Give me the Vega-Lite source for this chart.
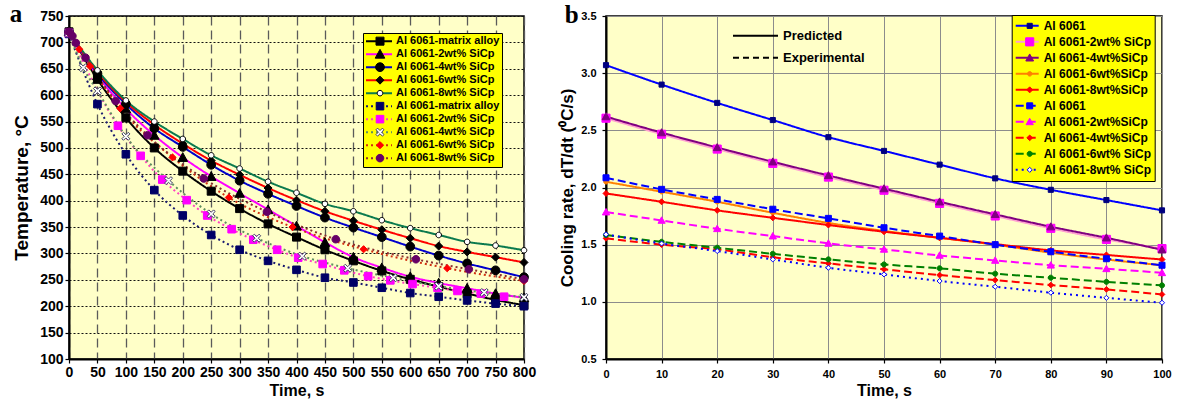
{
  "$schema": "https://vega.github.io/schema/vega-lite/v6.json",
  "background": "white",
  "padding": {"left": 8, "top": 1, "right": 3, "bottom": 5},
  "spacing": 20,
  "resolve": {
    "scale": {"color": "independent", "strokeDash": "independent", "shape": "independent", "fill": "independent", "stroke": "independent", "strokeWidth": "independent"},
    "legend": {"color": "independent", "strokeDash": "independent", "shape": "independent", "fill": "independent", "stroke": "independent", "strokeWidth": "independent"}
  },
  "config": {
    "font": "Liberation Sans",
    "view": {"fill": "#FFFFC8", "stroke": "black", "strokeWidth": 1.5},
    "axis": {"labelFont": "Liberation Sans", "titleFont": "Liberation Sans", "labelFontWeight": "bold", "titleFontWeight": "bold", "labelColor": "black", "titleColor": "black", "domainColor": "black", "domainWidth": 2, "tickColor": "black", "tickSize": 4, "tickWidth": 1.2, "labelFlush": false, "labelOverlap": false},
    "legend": {"labelFont": "Liberation Sans", "labelFontWeight": "bold", "labelColor": "black", "labelLimit": 300}
  },
  "datasets": {
    "left": [
      {"s":"P|Al 6061-matrix alloy","t":0,"v":720},{"s":"P|Al 6061-matrix alloy","t":50,"v":630},{"s":"P|Al 6061-matrix alloy","t":100,"v":557},{"s":"P|Al 6061-matrix alloy","t":150,"v":500},{"s":"P|Al 6061-matrix alloy","t":200,"v":456},{"s":"P|Al 6061-matrix alloy","t":250,"v":418},{"s":"P|Al 6061-matrix alloy","t":300,"v":385},{"s":"P|Al 6061-matrix alloy","t":350,"v":356},{"s":"P|Al 6061-matrix alloy","t":400,"v":331},{"s":"P|Al 6061-matrix alloy","t":450,"v":307},{"s":"P|Al 6061-matrix alloy","t":500,"v":286},{"s":"P|Al 6061-matrix alloy","t":550,"v":267},{"s":"P|Al 6061-matrix alloy","t":600,"v":251},{"s":"P|Al 6061-matrix alloy","t":650,"v":237},{"s":"P|Al 6061-matrix alloy","t":700,"v":224},{"s":"P|Al 6061-matrix alloy","t":750,"v":212},{"s":"P|Al 6061-matrix alloy","t":800,"v":202},
      {"s":"P|Al 6061-2wt% SiCp","t":0,"v":720},{"s":"P|Al 6061-2wt% SiCp","t":50,"v":637},{"s":"P|Al 6061-2wt% SiCp","t":100,"v":574},{"s":"P|Al 6061-2wt% SiCp","t":150,"v":524},{"s":"P|Al 6061-2wt% SiCp","t":200,"v":482},{"s":"P|Al 6061-2wt% SiCp","t":250,"v":446},{"s":"P|Al 6061-2wt% SiCp","t":300,"v":414},{"s":"P|Al 6061-2wt% SiCp","t":350,"v":383},{"s":"P|Al 6061-2wt% SiCp","t":400,"v":352},{"s":"P|Al 6061-2wt% SiCp","t":450,"v":321},{"s":"P|Al 6061-2wt% SiCp","t":500,"v":293},{"s":"P|Al 6061-2wt% SiCp","t":550,"v":273},{"s":"P|Al 6061-2wt% SiCp","t":600,"v":256},{"s":"P|Al 6061-2wt% SiCp","t":650,"v":244},{"s":"P|Al 6061-2wt% SiCp","t":700,"v":234},{"s":"P|Al 6061-2wt% SiCp","t":750,"v":224},{"s":"P|Al 6061-2wt% SiCp","t":800,"v":216},
      {"s":"P|Al 6061-4wt% SiCp","t":0,"v":720},{"s":"P|Al 6061-4wt% SiCp","t":50,"v":641},{"s":"P|Al 6061-4wt% SiCp","t":100,"v":583},{"s":"P|Al 6061-4wt% SiCp","t":150,"v":537},{"s":"P|Al 6061-4wt% SiCp","t":200,"v":502},{"s":"P|Al 6061-4wt% SiCp","t":250,"v":468},{"s":"P|Al 6061-4wt% SiCp","t":300,"v":438},{"s":"P|Al 6061-4wt% SiCp","t":350,"v":413},{"s":"P|Al 6061-4wt% SiCp","t":400,"v":390},{"s":"P|Al 6061-4wt% SiCp","t":450,"v":368},{"s":"P|Al 6061-4wt% SiCp","t":500,"v":349},{"s":"P|Al 6061-4wt% SiCp","t":550,"v":331},{"s":"P|Al 6061-4wt% SiCp","t":600,"v":313},{"s":"P|Al 6061-4wt% SiCp","t":650,"v":296},{"s":"P|Al 6061-4wt% SiCp","t":700,"v":281},{"s":"P|Al 6061-4wt% SiCp","t":750,"v":268},{"s":"P|Al 6061-4wt% SiCp","t":800,"v":255},
      {"s":"P|Al 6061-6wt% SiCp","t":0,"v":720},{"s":"P|Al 6061-6wt% SiCp","t":50,"v":644},{"s":"P|Al 6061-6wt% SiCp","t":100,"v":587},{"s":"P|Al 6061-6wt% SiCp","t":150,"v":544},{"s":"P|Al 6061-6wt% SiCp","t":200,"v":508},{"s":"P|Al 6061-6wt% SiCp","t":250,"v":476},{"s":"P|Al 6061-6wt% SiCp","t":300,"v":449},{"s":"P|Al 6061-6wt% SiCp","t":350,"v":424},{"s":"P|Al 6061-6wt% SiCp","t":400,"v":401},{"s":"P|Al 6061-6wt% SiCp","t":450,"v":380},{"s":"P|Al 6061-6wt% SiCp","t":500,"v":362},{"s":"P|Al 6061-6wt% SiCp","t":550,"v":345},{"s":"P|Al 6061-6wt% SiCp","t":600,"v":329},{"s":"P|Al 6061-6wt% SiCp","t":650,"v":314},{"s":"P|Al 6061-6wt% SiCp","t":700,"v":303},{"s":"P|Al 6061-6wt% SiCp","t":750,"v":293},{"s":"P|Al 6061-6wt% SiCp","t":800,"v":283},
      {"s":"P|Al 6061-8wt% SiCp","t":0,"v":720},{"s":"P|Al 6061-8wt% SiCp","t":50,"v":647},{"s":"P|Al 6061-8wt% SiCp","t":100,"v":590},{"s":"P|Al 6061-8wt% SiCp","t":150,"v":550},{"s":"P|Al 6061-8wt% SiCp","t":200,"v":517},{"s":"P|Al 6061-8wt% SiCp","t":250,"v":486},{"s":"P|Al 6061-8wt% SiCp","t":300,"v":461},{"s":"P|Al 6061-8wt% SiCp","t":350,"v":436},{"s":"P|Al 6061-8wt% SiCp","t":400,"v":415},{"s":"P|Al 6061-8wt% SiCp","t":450,"v":394},{"s":"P|Al 6061-8wt% SiCp","t":500,"v":380},{"s":"P|Al 6061-8wt% SiCp","t":550,"v":363},{"s":"P|Al 6061-8wt% SiCp","t":600,"v":348},{"s":"P|Al 6061-8wt% SiCp","t":650,"v":335},{"s":"P|Al 6061-8wt% SiCp","t":700,"v":322},{"s":"P|Al 6061-8wt% SiCp","t":750,"v":315},{"s":"P|Al 6061-8wt% SiCp","t":800,"v":306},
      {"s":"E|Al 6061-matrix alloy","t":0,"v":716},{"s":"E|Al 6061-matrix alloy","t":50,"v":583},{"s":"E|Al 6061-matrix alloy","t":100,"v":488},{"s":"E|Al 6061-matrix alloy","t":150,"v":420},{"s":"E|Al 6061-matrix alloy","t":200,"v":372},{"s":"E|Al 6061-matrix alloy","t":250,"v":335},{"s":"E|Al 6061-matrix alloy","t":300,"v":307},{"s":"E|Al 6061-matrix alloy","t":350,"v":286},{"s":"E|Al 6061-matrix alloy","t":400,"v":269},{"s":"E|Al 6061-matrix alloy","t":450,"v":254},{"s":"E|Al 6061-matrix alloy","t":500,"v":245},{"s":"E|Al 6061-matrix alloy","t":550,"v":235},{"s":"E|Al 6061-matrix alloy","t":600,"v":225},{"s":"E|Al 6061-matrix alloy","t":650,"v":218},{"s":"E|Al 6061-matrix alloy","t":700,"v":211},{"s":"E|Al 6061-matrix alloy","t":750,"v":205},{"s":"E|Al 6061-matrix alloy","t":800,"v":200},
      {"s":"E|Al 6061-2wt% SiCp","t":0,"v":718},{"s":"E|Al 6061-2wt% SiCp","t":86,"v":542},{"s":"E|Al 6061-2wt% SiCp","t":126,"v":485},{"s":"E|Al 6061-2wt% SiCp","t":164,"v":440},{"s":"E|Al 6061-2wt% SiCp","t":207,"v":401},{"s":"E|Al 6061-2wt% SiCp","t":243,"v":372},{"s":"E|Al 6061-2wt% SiCp","t":286,"v":346},{"s":"E|Al 6061-2wt% SiCp","t":324,"v":326},{"s":"E|Al 6061-2wt% SiCp","t":366,"v":307},{"s":"E|Al 6061-2wt% SiCp","t":403,"v":292},{"s":"E|Al 6061-2wt% SiCp","t":446,"v":280},{"s":"E|Al 6061-2wt% SiCp","t":484,"v":268},{"s":"E|Al 6061-2wt% SiCp","t":526,"v":257},{"s":"E|Al 6061-2wt% SiCp","t":565,"v":249},{"s":"E|Al 6061-2wt% SiCp","t":604,"v":242},{"s":"E|Al 6061-2wt% SiCp","t":648,"v":235},{"s":"E|Al 6061-2wt% SiCp","t":683,"v":229},{"s":"E|Al 6061-2wt% SiCp","t":724,"v":224},{"s":"E|Al 6061-2wt% SiCp","t":765,"v":218},
      {"s":"E|Al 6061-4wt% SiCp","t":0,"v":718},{"s":"E|Al 6061-4wt% SiCp","t":25,"v":652},{"s":"E|Al 6061-4wt% SiCp","t":50,"v":608},{"s":"E|Al 6061-4wt% SiCp","t":100,"v":522},{"s":"E|Al 6061-4wt% SiCp","t":175,"v":438},{"s":"E|Al 6061-4wt% SiCp","t":250,"v":375},{"s":"E|Al 6061-4wt% SiCp","t":330,"v":329},{"s":"E|Al 6061-4wt% SiCp","t":410,"v":295},{"s":"E|Al 6061-4wt% SiCp","t":490,"v":272},{"s":"E|Al 6061-4wt% SiCp","t":570,"v":254},{"s":"E|Al 6061-4wt% SiCp","t":650,"v":238},{"s":"E|Al 6061-4wt% SiCp","t":730,"v":226},{"s":"E|Al 6061-4wt% SiCp","t":800,"v":217},
      {"s":"E|Al 6061-6wt% SiCp","t":0,"v":718},{"s":"E|Al 6061-6wt% SiCp","t":18,"v":687},{"s":"E|Al 6061-6wt% SiCp","t":37,"v":655},{"s":"E|Al 6061-6wt% SiCp","t":90,"v":575},{"s":"E|Al 6061-6wt% SiCp","t":182,"v":482},{"s":"E|Al 6061-6wt% SiCp","t":281,"v":406},{"s":"E|Al 6061-6wt% SiCp","t":393,"v":350},{"s":"E|Al 6061-6wt% SiCp","t":518,"v":308},{"s":"E|Al 6061-6wt% SiCp","t":665,"v":272},{"s":"E|Al 6061-6wt% SiCp","t":800,"v":248},
      {"s":"E|Al 6061-8wt% SiCp","t":0,"v":720},{"s":"E|Al 6061-8wt% SiCp","t":6,"v":712},{"s":"E|Al 6061-8wt% SiCp","t":12,"v":699},{"s":"E|Al 6061-8wt% SiCp","t":29,"v":671},{"s":"E|Al 6061-8wt% SiCp","t":82,"v":589},{"s":"E|Al 6061-8wt% SiCp","t":138,"v":524},{"s":"E|Al 6061-8wt% SiCp","t":237,"v":442},{"s":"E|Al 6061-8wt% SiCp","t":348,"v":379},{"s":"E|Al 6061-8wt% SiCp","t":469,"v":327},{"s":"E|Al 6061-8wt% SiCp","t":610,"v":289},{"s":"E|Al 6061-8wt% SiCp","t":703,"v":270},{"s":"E|Al 6061-8wt% SiCp","t":800,"v":251}
    ],
    "right": [
      {"s":"P|Al 6061","type":"Predicted","t":0,"v":3.07},{"s":"P|Al 6061","type":"Predicted","t":10,"v":2.90},{"s":"P|Al 6061","type":"Predicted","t":20,"v":2.74},{"s":"P|Al 6061","type":"Predicted","t":30,"v":2.59},{"s":"P|Al 6061","type":"Predicted","t":40,"v":2.44},{"s":"P|Al 6061","type":"Predicted","t":50,"v":2.32},{"s":"P|Al 6061","type":"Predicted","t":60,"v":2.20},{"s":"P|Al 6061","type":"Predicted","t":70,"v":2.08},{"s":"P|Al 6061","type":"Predicted","t":80,"v":1.98},{"s":"P|Al 6061","type":"Predicted","t":90,"v":1.89},{"s":"P|Al 6061","type":"Predicted","t":100,"v":1.80},
      {"s":"P|Al 6061-2wt% SiCp","type":"Predicted","t":0,"v":2.606},{"s":"P|Al 6061-2wt% SiCp","type":"Predicted","t":10,"v":2.466},{"s":"P|Al 6061-2wt% SiCp","type":"Predicted","t":20,"v":2.336},{"s":"P|Al 6061-2wt% SiCp","type":"Predicted","t":30,"v":2.211},{"s":"P|Al 6061-2wt% SiCp","type":"Predicted","t":40,"v":2.091},{"s":"P|Al 6061-2wt% SiCp","type":"Predicted","t":50,"v":1.976},{"s":"P|Al 6061-2wt% SiCp","type":"Predicted","t":60,"v":1.861},{"s":"P|Al 6061-2wt% SiCp","type":"Predicted","t":70,"v":1.751},{"s":"P|Al 6061-2wt% SiCp","type":"Predicted","t":80,"v":1.643},{"s":"P|Al 6061-2wt% SiCp","type":"Predicted","t":90,"v":1.546},{"s":"P|Al 6061-2wt% SiCp","type":"Predicted","t":100,"v":1.466},
      {"s":"P|Al 6061-4wt%SiCp","type":"Predicted","t":0,"v":2.62},{"s":"P|Al 6061-4wt%SiCp","type":"Predicted","t":10,"v":2.48},{"s":"P|Al 6061-4wt%SiCp","type":"Predicted","t":20,"v":2.35},{"s":"P|Al 6061-4wt%SiCp","type":"Predicted","t":30,"v":2.225},{"s":"P|Al 6061-4wt%SiCp","type":"Predicted","t":40,"v":2.105},{"s":"P|Al 6061-4wt%SiCp","type":"Predicted","t":50,"v":1.99},{"s":"P|Al 6061-4wt%SiCp","type":"Predicted","t":60,"v":1.875},{"s":"P|Al 6061-4wt%SiCp","type":"Predicted","t":70,"v":1.765},{"s":"P|Al 6061-4wt%SiCp","type":"Predicted","t":80,"v":1.657},{"s":"P|Al 6061-4wt%SiCp","type":"Predicted","t":90,"v":1.56},{"s":"P|Al 6061-4wt%SiCp","type":"Predicted","t":100,"v":1.455},
      {"s":"P|Al 6061-6wt%SiCp","type":"Predicted","t":0,"v":2.05},{"s":"P|Al 6061-6wt%SiCp","type":"Predicted","t":10,"v":1.963},{"s":"P|Al 6061-6wt%SiCp","type":"Predicted","t":20,"v":1.875},{"s":"P|Al 6061-6wt%SiCp","type":"Predicted","t":30,"v":1.779},{"s":"P|Al 6061-6wt%SiCp","type":"Predicted","t":40,"v":1.69},{"s":"P|Al 6061-6wt%SiCp","type":"Predicted","t":50,"v":1.62},{"s":"P|Al 6061-6wt%SiCp","type":"Predicted","t":60,"v":1.56},{"s":"P|Al 6061-6wt%SiCp","type":"Predicted","t":70,"v":1.50},{"s":"P|Al 6061-6wt%SiCp","type":"Predicted","t":80,"v":1.43},{"s":"P|Al 6061-6wt%SiCp","type":"Predicted","t":90,"v":1.37},{"s":"P|Al 6061-6wt%SiCp","type":"Predicted","t":100,"v":1.32},
      {"s":"P|Al 6061-8wt%SiCp","type":"Predicted","t":0,"v":1.948},{"s":"P|Al 6061-8wt%SiCp","type":"Predicted","t":10,"v":1.875},{"s":"P|Al 6061-8wt%SiCp","type":"Predicted","t":20,"v":1.80},{"s":"P|Al 6061-8wt%SiCp","type":"Predicted","t":30,"v":1.735},{"s":"P|Al 6061-8wt%SiCp","type":"Predicted","t":40,"v":1.672},{"s":"P|Al 6061-8wt%SiCp","type":"Predicted","t":50,"v":1.613},{"s":"P|Al 6061-8wt%SiCp","type":"Predicted","t":60,"v":1.56},{"s":"P|Al 6061-8wt%SiCp","type":"Predicted","t":70,"v":1.505},{"s":"P|Al 6061-8wt%SiCp","type":"Predicted","t":80,"v":1.45},{"s":"P|Al 6061-8wt%SiCp","type":"Predicted","t":90,"v":1.41},{"s":"P|Al 6061-8wt%SiCp","type":"Predicted","t":100,"v":1.37},
      {"s":"E|Al 6061","type":"Experimental","t":0,"v":2.085},{"s":"E|Al 6061","type":"Experimental","t":10,"v":1.984},{"s":"E|Al 6061","type":"Experimental","t":20,"v":1.896},{"s":"E|Al 6061","type":"Experimental","t":30,"v":1.81},{"s":"E|Al 6061","type":"Experimental","t":40,"v":1.73},{"s":"E|Al 6061","type":"Experimental","t":50,"v":1.648},{"s":"E|Al 6061","type":"Experimental","t":60,"v":1.575},{"s":"E|Al 6061","type":"Experimental","t":70,"v":1.50},{"s":"E|Al 6061","type":"Experimental","t":80,"v":1.438},{"s":"E|Al 6061","type":"Experimental","t":90,"v":1.377},{"s":"E|Al 6061","type":"Experimental","t":100,"v":1.32},
      {"s":"E|Al 6061-2wt%SiCp","type":"Experimental","t":0,"v":1.785},{"s":"E|Al 6061-2wt%SiCp","type":"Experimental","t":10,"v":1.712},{"s":"E|Al 6061-2wt%SiCp","type":"Experimental","t":20,"v":1.639},{"s":"E|Al 6061-2wt%SiCp","type":"Experimental","t":30,"v":1.575},{"s":"E|Al 6061-2wt%SiCp","type":"Experimental","t":40,"v":1.511},{"s":"E|Al 6061-2wt%SiCp","type":"Experimental","t":50,"v":1.459},{"s":"E|Al 6061-2wt%SiCp","type":"Experimental","t":60,"v":1.406},{"s":"E|Al 6061-2wt%SiCp","type":"Experimental","t":70,"v":1.362},{"s":"E|Al 6061-2wt%SiCp","type":"Experimental","t":80,"v":1.32},{"s":"E|Al 6061-2wt%SiCp","type":"Experimental","t":90,"v":1.289},{"s":"E|Al 6061-2wt%SiCp","type":"Experimental","t":100,"v":1.254},
      {"s":"E|Al 6061-4wt%SiCp","type":"Experimental","t":0,"v":1.555},{"s":"E|Al 6061-4wt%SiCp","type":"Experimental","t":10,"v":1.50},{"s":"E|Al 6061-4wt%SiCp","type":"Experimental","t":20,"v":1.459},{"s":"E|Al 6061-4wt%SiCp","type":"Experimental","t":30,"v":1.39},{"s":"E|Al 6061-4wt%SiCp","type":"Experimental","t":40,"v":1.336},{"s":"E|Al 6061-4wt%SiCp","type":"Experimental","t":50,"v":1.284},{"s":"E|Al 6061-4wt%SiCp","type":"Experimental","t":60,"v":1.234},{"s":"E|Al 6061-4wt%SiCp","type":"Experimental","t":70,"v":1.19},{"s":"E|Al 6061-4wt%SiCp","type":"Experimental","t":80,"v":1.147},{"s":"E|Al 6061-4wt%SiCp","type":"Experimental","t":90,"v":1.109},{"s":"E|Al 6061-4wt%SiCp","type":"Experimental","t":100,"v":1.065},
      {"s":"E|Al 6061-6wt% SiCp","type":"Experimental","t":0,"v":1.584},{"s":"E|Al 6061-6wt% SiCp","type":"Experimental","t":10,"v":1.525},{"s":"E|Al 6061-6wt% SiCp","type":"Experimental","t":20,"v":1.473},{"s":"E|Al 6061-6wt% SiCp","type":"Experimental","t":30,"v":1.42},{"s":"E|Al 6061-6wt% SiCp","type":"Experimental","t":40,"v":1.371},{"s":"E|Al 6061-6wt% SiCp","type":"Experimental","t":50,"v":1.327},{"s":"E|Al 6061-6wt% SiCp","type":"Experimental","t":60,"v":1.293},{"s":"E|Al 6061-6wt% SiCp","type":"Experimental","t":70,"v":1.246},{"s":"E|Al 6061-6wt% SiCp","type":"Experimental","t":80,"v":1.211},{"s":"E|Al 6061-6wt% SiCp","type":"Experimental","t":90,"v":1.175},{"s":"E|Al 6061-6wt% SiCp","type":"Experimental","t":100,"v":1.144},
      {"s":"E|Al 6061-8wt% SiCp","type":"Experimental","t":0,"v":1.59},{"s":"E|Al 6061-8wt% SiCp","type":"Experimental","t":10,"v":1.51},{"s":"E|Al 6061-8wt% SiCp","type":"Experimental","t":20,"v":1.444},{"s":"E|Al 6061-8wt% SiCp","type":"Experimental","t":30,"v":1.371},{"s":"E|Al 6061-8wt% SiCp","type":"Experimental","t":40,"v":1.298},{"s":"E|Al 6061-8wt% SiCp","type":"Experimental","t":50,"v":1.24},{"s":"E|Al 6061-8wt% SiCp","type":"Experimental","t":60,"v":1.182},{"s":"E|Al 6061-8wt% SiCp","type":"Experimental","t":70,"v":1.132},{"s":"E|Al 6061-8wt% SiCp","type":"Experimental","t":80,"v":1.08},{"s":"E|Al 6061-8wt% SiCp","type":"Experimental","t":90,"v":1.035},{"s":"E|Al 6061-8wt% SiCp","type":"Experimental","t":100,"v":0.992}
    ]
  },
  "hconcat": [
    {
      "width": 455, "height": 343,
      "data": {"name": "left"},
      "title": {"text": "a", "anchor": "start", "frame": "bounds", "font": "Liberation Serif", "fontSize": 25, "fontWeight": "bold", "color": "black", "dy": 18, "dx": -3, "offset": 0},
      "encoding": {
        "x": {"field": "t", "type": "quantitative", "scale": {"domain": [0, 800], "nice": false},
          "axis": {"title": "Time, s", "values": [0,50,100,150,200,250,300,350,400,450,500,550,600,650,700,750,800], "grid": true, "gridDash": [9,5], "gridColor": "#5a5a5a", "gridWidth": 1.3, "labelFontSize": 14, "labelPadding": 2, "titleFontSize": 16, "titlePadding": 3}},
        "y": {"field": "v", "type": "quantitative", "scale": {"domain": [100, 750], "nice": false, "zero": false},
          "axis": {"title": "Temperature, °C", "values": [100,150,200,250,300,350,400,450,500,550,600,650,700,750], "grid": true, "gridDash": [2,2], "gridColor": "#111111", "gridWidth": 1, "labelFontSize": 14, "labelPadding": 2, "titleFontSize": 19, "titlePadding": 8}}
      },
      "layer": [
        {
          "mark": {"type": "line", "strokeWidth": 2, "interpolate": "monotone"},
          "encoding": {
            "color": {"field": "s", "type": "nominal",
              "scale": {"domain": ["P|Al 6061-matrix alloy","P|Al 6061-2wt% SiCp","P|Al 6061-4wt% SiCp","P|Al 6061-6wt% SiCp","P|Al 6061-8wt% SiCp","E|Al 6061-matrix alloy","E|Al 6061-2wt% SiCp","E|Al 6061-4wt% SiCp","E|Al 6061-6wt% SiCp","E|Al 6061-8wt% SiCp"],
                "range": ["#000000","#FF00FF","#0000CC","#FF0000","#0B7A4E","#1A1A70","#FF40C0","#5F8F5F","#D03010","#8B2E2E"]},
              "legend": {"title": null, "orient": "none", "legendX": 294, "legendY": 17, "zindex": 1, "symbolType": "stroke", "symbolSize": 676, "symbolStrokeWidth": 2, "fillColor": "#FFFF00", "strokeColor": "black", "padding": 2, "clipHeight": 12.3, "rowPadding": 0, "labelFontSize": 11, "labelOffset": 3, "labelExpr": "slice(datum.label, 2)"}},
            "strokeDash": {"field": "s", "type": "nominal",
              "scale": {"domain": ["P|Al 6061-matrix alloy","P|Al 6061-2wt% SiCp","P|Al 6061-4wt% SiCp","P|Al 6061-6wt% SiCp","P|Al 6061-8wt% SiCp","E|Al 6061-matrix alloy","E|Al 6061-2wt% SiCp","E|Al 6061-4wt% SiCp","E|Al 6061-6wt% SiCp","E|Al 6061-8wt% SiCp"],
                "range": [[1,0],[1,0],[1,0],[1,0],[1,0],[2,3],[2,3],[2,3],[2,3],[2,3]]}}
          }
        },
        {
          "mark": {"type": "point", "filled": true, "opacity": 1, "strokeWidth": 1, "size": 64},
          "encoding": {
            "shape": {"field": "s", "type": "nominal",
              "scale": {"domain": ["P|Al 6061-matrix alloy","P|Al 6061-2wt% SiCp","P|Al 6061-4wt% SiCp","P|Al 6061-6wt% SiCp","P|Al 6061-8wt% SiCp","E|Al 6061-matrix alloy","E|Al 6061-2wt% SiCp","E|Al 6061-4wt% SiCp","E|Al 6061-6wt% SiCp","E|Al 6061-8wt% SiCp","~"],
                "range": ["M-1,-1L1,-1L1,1L-1,1Z","M0,-1.2L1.2,1L-1.2,1Z","M-1.1,0A1.1,1.1,0,1,1,1.1,0A1.1,1.1,0,1,1,-1.1,0Z","M0,-1L1,0L0,1L-1,0Z","M-0.7,0A0.7,0.7,0,1,1,0.7,0A0.7,0.7,0,1,1,-0.7,0Z","M-0.95,-0.95L0.95,-0.95L0.95,0.95L-0.95,0.95Z","M-0.95,-0.95L0.95,-0.95L0.95,0.95L-0.95,0.95Z","M-1,-0.6L-0.6,-1L0,-0.4L0.6,-1L1,-0.6L0.4,0L1,0.6L0.6,1L0,0.4L-0.6,1L-1,0.6L-0.4,0Z","M0,-0.9L0.9,0L0,0.9L-0.9,0Z","M-0.95,0A0.95,0.95,0,1,1,0.95,0A0.95,0.95,0,1,1,-0.95,0Z","circle"]},
              "legend": {"title": null, "orient": "none", "legendX": 294, "legendY": 17, "zindex": 2, "values": ["P|Al 6061-matrix alloy","P|Al 6061-2wt% SiCp","P|Al 6061-4wt% SiCp","P|Al 6061-6wt% SiCp","P|Al 6061-8wt% SiCp","E|Al 6061-matrix alloy","E|Al 6061-2wt% SiCp","E|Al 6061-4wt% SiCp","E|Al 6061-6wt% SiCp","E|Al 6061-8wt% SiCp"], "symbolSize": 64, "symbolStrokeWidth": 1, "padding": 2, "clipHeight": 12.3, "rowPadding": 0, "labelFontSize": 11, "symbolOffset": 9.5, "labelOffset": 3, "labelExpr": "''"}},
            "fill": {"field": "s", "type": "nominal",
              "scale": {"domain": ["P|Al 6061-matrix alloy","P|Al 6061-2wt% SiCp","P|Al 6061-4wt% SiCp","P|Al 6061-6wt% SiCp","P|Al 6061-8wt% SiCp","E|Al 6061-matrix alloy","E|Al 6061-2wt% SiCp","E|Al 6061-4wt% SiCp","E|Al 6061-6wt% SiCp","E|Al 6061-8wt% SiCp","~"],
                "range": ["#000000","#000000","#000000","#000000","#FFFFFF","#000066","#FF00FF","#FFFFFF","#FF0000","#660066","#000000"]}},
            "stroke": {"field": "s", "type": "nominal",
              "scale": {"domain": ["P|Al 6061-matrix alloy","P|Al 6061-2wt% SiCp","P|Al 6061-4wt% SiCp","P|Al 6061-6wt% SiCp","P|Al 6061-8wt% SiCp","E|Al 6061-matrix alloy","E|Al 6061-2wt% SiCp","E|Al 6061-4wt% SiCp","E|Al 6061-6wt% SiCp","E|Al 6061-8wt% SiCp","~"],
                "range": ["#000000","#000000","#000000","#000000","#000000","#000066","#FF00FF","#404060","#FF0000","#660066","#000000"]}}
          }
        }
      ]
    },
    {
      "width": 556, "height": 343,
      "data": {"name": "right"},
      "title": {"text": "b", "anchor": "start", "frame": "bounds", "font": "Liberation Serif", "fontSize": 25, "fontWeight": "bold", "color": "black", "dy": 18, "dx": 6, "offset": 0},
      "encoding": {
        "x": {"field": "t", "type": "quantitative", "scale": {"domain": [0, 100], "nice": false},
          "axis": {"title": "Time, s", "values": [0,10,20,30,40,50,60,70,80,90,100], "grid": true, "gridColor": "#8c8c8c", "gridWidth": 1, "labelFontSize": 11, "labelPadding": 5, "titleFontSize": 16, "titlePadding": 3}},
        "y": {"field": "v", "type": "quantitative", "scale": {"domain": [0.5, 3.5], "nice": false, "zero": false},
          "axis": {"title": "Cooling rate, dT/dt (⁰C/s)", "values": [0.5,1,1.5,2,2.5,3,3.5], "format": ".1f", "grid": true, "gridColor": "#8c8c8c", "gridWidth": 1, "labelFontSize": 11, "labelPadding": 6, "titleFontSize": 17, "titlePadding": 4}}
      },
      "layer": [
        {
          "mark": {"type": "line", "strokeWidth": 2, "interpolate": "monotone"},
          "encoding": {
            "color": {"field": "s", "type": "nominal",
              "scale": {"domain": ["P|Al 6061","P|Al 6061-2wt% SiCp","P|Al 6061-4wt%SiCp","P|Al 6061-6wt%SiCp","P|Al 6061-8wt%SiCp","E|Al 6061","E|Al 6061-2wt%SiCp","E|Al 6061-4wt%SiCp","E|Al 6061-6wt% SiCp","E|Al 6061-8wt% SiCp"],
                "range": ["#0000FF","#FFA0D0","#800080","#FF8000","#FF0000","#0000FF","#FF00FF","#FF0000","#008000","#0000FF"]},
              "legend": {"title": null, "orient": "none", "legendX": 405.7, "legendY": -1, "zindex": 1, "symbolType": "stroke", "symbolSize": 529, "symbolStrokeWidth": 2, "fillColor": "#FFFF00", "strokeColor": "black", "padding": 3, "clipHeight": 15.7, "rowPadding": 0, "labelFontSize": 12, "labelOffset": 4, "labelExpr": "slice(datum.label, 2)"}},
            "strokeDash": {"field": "s", "type": "nominal",
              "scale": {"domain": ["P|Al 6061","P|Al 6061-2wt% SiCp","P|Al 6061-4wt%SiCp","P|Al 6061-6wt%SiCp","P|Al 6061-8wt%SiCp","E|Al 6061","E|Al 6061-2wt%SiCp","E|Al 6061-4wt%SiCp","E|Al 6061-6wt% SiCp","E|Al 6061-8wt% SiCp"],
                "range": [[1,0],[1,0],[1,0],[1,0],[1,0],[8,4],[8,4],[8,4],[8,4],[2,4]]}},
            "strokeWidth": {"field": "type", "type": "nominal",
              "scale": {"domain": ["Predicted", "Experimental"], "range": [2, 2]},
              "legend": {"title": null, "orient": "none", "legendX": 126, "legendY": 9, "zindex": 1, "symbolType": "stroke", "symbolSize": 2025, "symbolStrokeColor": "black", "padding": 0, "clipHeight": 21.7, "rowPadding": 0, "labelFontSize": 13, "labelOffset": 4,
                "encode": {"symbols": {"update": {"strokeDash": {"signal": "datum.value === 'Experimental' ? [6, 4] : [1, 0]"}, "stroke": {"value": "black"}}}}}}
          }
        },
        {
          "mark": {"type": "point", "filled": true, "opacity": 1, "strokeWidth": 1, "size": 36},
          "encoding": {
            "shape": {"field": "s", "type": "nominal",
              "scale": {"domain": ["P|Al 6061","P|Al 6061-2wt% SiCp","P|Al 6061-4wt%SiCp","P|Al 6061-6wt%SiCp","P|Al 6061-8wt%SiCp","E|Al 6061","E|Al 6061-2wt%SiCp","E|Al 6061-4wt%SiCp","E|Al 6061-6wt% SiCp","E|Al 6061-8wt% SiCp","~"],
                "range": ["M-0.85,-0.85L0.85,-0.85L0.85,0.85L-0.85,0.85Z","M-1.35,-1.35L1.35,-1.35L1.35,1.35L-1.35,1.35Z","M0,-1.3L1.3,1.05L-1.3,1.05Z","M-0.75,0A0.75,0.75,0,1,1,0.75,0A0.75,0.75,0,1,1,-0.75,0Z","M0,-1L1,0L0,1L-1,0Z","M-1,-1L1,-1L1,1L-1,1Z","M0,-1.2L1.2,0.95L-1.2,0.95Z","M0,-0.95L0.95,0L0,0.95L-0.95,0Z","M-0.85,0A0.85,0.85,0,1,1,0.85,0A0.85,0.85,0,1,1,-0.85,0Z","M0,-0.85L0.85,0L0,0.85L-0.85,0Z","circle"]},
              "legend": {"title": null, "orient": "none", "legendX": 405.7, "legendY": -1, "zindex": 2, "values": ["P|Al 6061","P|Al 6061-2wt% SiCp","P|Al 6061-4wt%SiCp","P|Al 6061-6wt%SiCp","P|Al 6061-8wt%SiCp","E|Al 6061","E|Al 6061-2wt%SiCp","E|Al 6061-4wt%SiCp","E|Al 6061-6wt% SiCp","E|Al 6061-8wt% SiCp"], "symbolSize": 36, "symbolStrokeWidth": 1, "padding": 3, "clipHeight": 15.7, "rowPadding": 0, "labelFontSize": 12, "symbolOffset": 9, "labelOffset": 4, "labelExpr": "''"}},
            "fill": {"field": "s", "type": "nominal",
              "scale": {"domain": ["P|Al 6061","P|Al 6061-2wt% SiCp","P|Al 6061-4wt%SiCp","P|Al 6061-6wt%SiCp","P|Al 6061-8wt%SiCp","E|Al 6061","E|Al 6061-2wt%SiCp","E|Al 6061-4wt%SiCp","E|Al 6061-6wt% SiCp","E|Al 6061-8wt% SiCp","~"],
                "range": ["#000080","#FF00FF","#800080","#FF8000","#FF0000","#0000FF","#FF00FF","#FF0000","#008000","#FFFFFF","#000000"]}},
            "stroke": {"field": "s", "type": "nominal",
              "scale": {"domain": ["P|Al 6061","P|Al 6061-2wt% SiCp","P|Al 6061-4wt%SiCp","P|Al 6061-6wt%SiCp","P|Al 6061-8wt%SiCp","E|Al 6061","E|Al 6061-2wt%SiCp","E|Al 6061-4wt%SiCp","E|Al 6061-6wt% SiCp","E|Al 6061-8wt% SiCp","~"],
                "range": ["#000080","#FF00FF","#800080","#FF8000","#FF0000","#0000FF","#FF00FF","#FF0000","#008000","#0000FF","#000000"]}}
          }
        }
      ]
    }
  ]
}
